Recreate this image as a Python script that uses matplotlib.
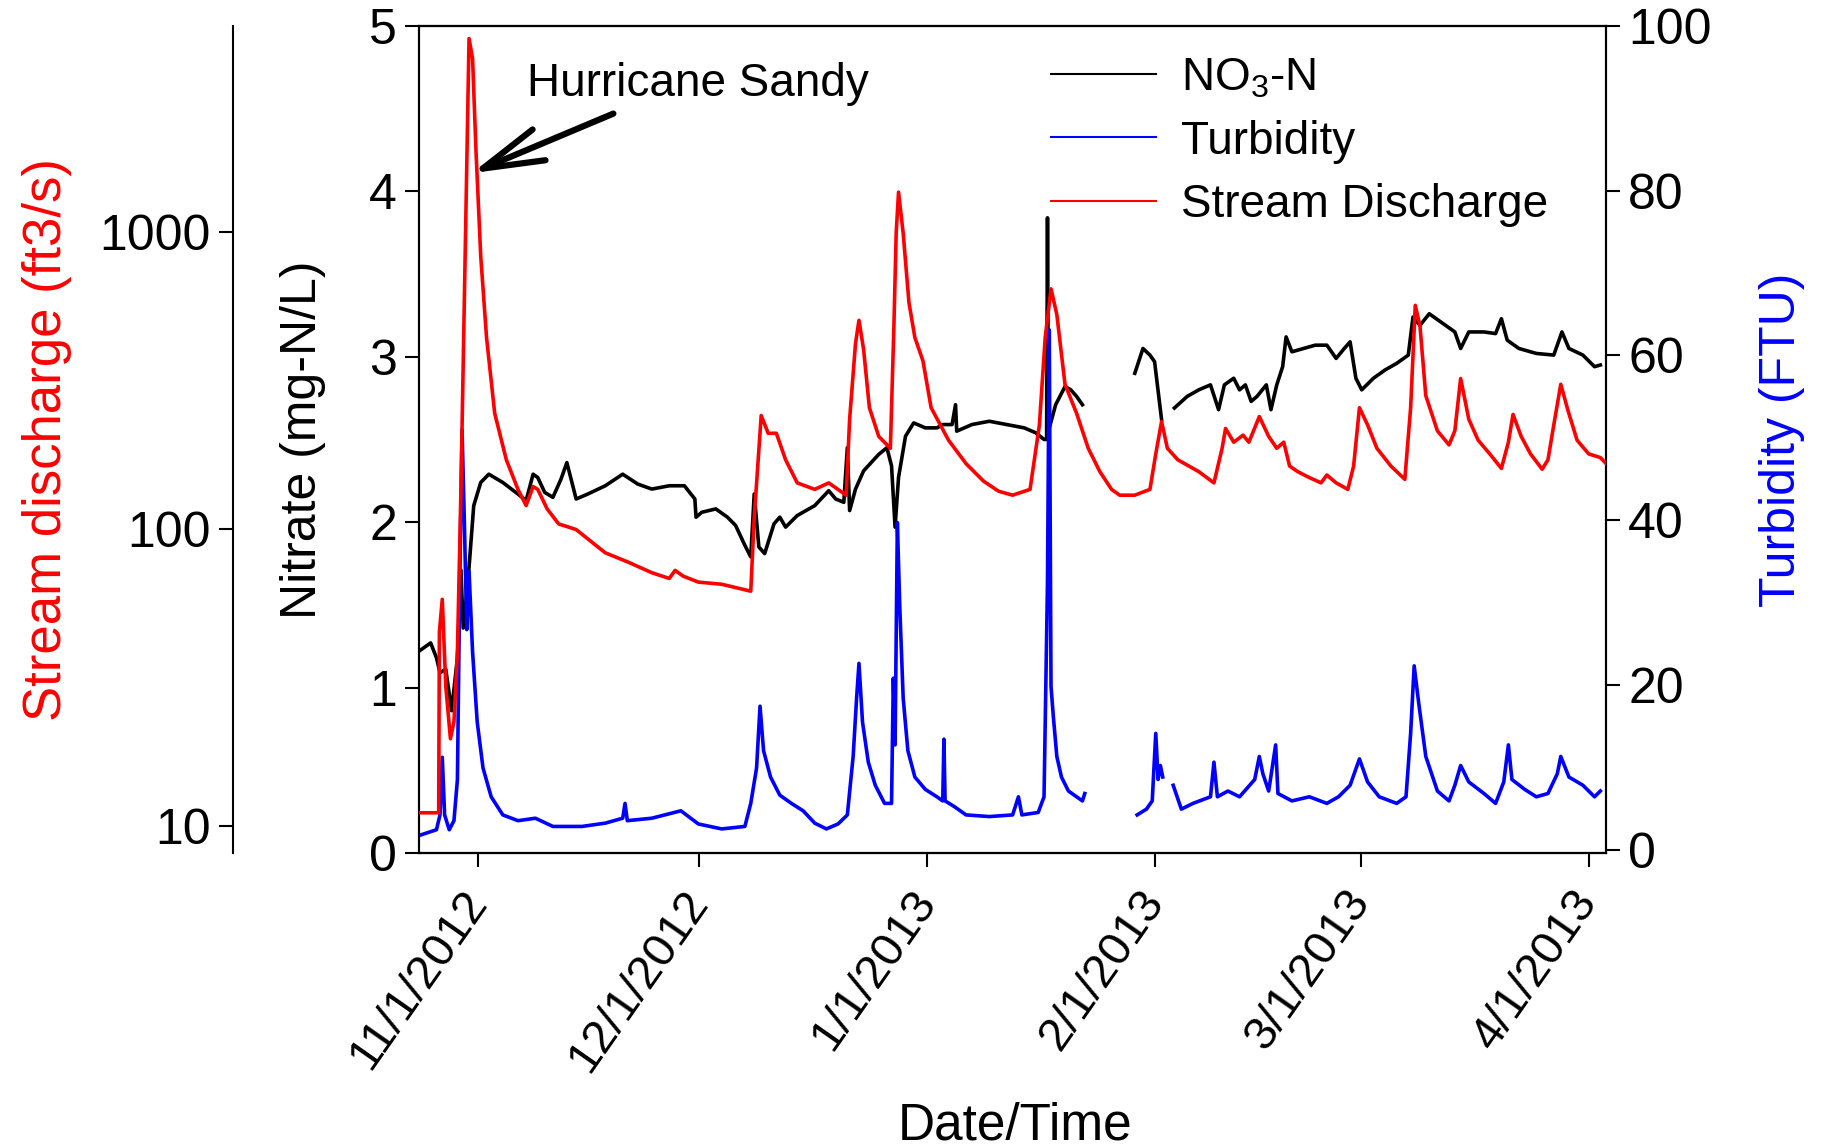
import numpy as np
import pandas as pd
import matplotlib
matplotlib.use('Agg')
import matplotlib.pyplot as plt
import matplotlib.dates as mdates
from matplotlib.lines import Line2D
from matplotlib.ticker import FixedLocator, NullLocator, FuncFormatter

plt.rcParams['font.family'] = 'Liberation Sans'
plt.rcParams['mathtext.fontset'] = 'custom'
plt.rcParams['mathtext.rm'] = 'Liberation Sans'

start = pd.Timestamp('2012-11-01')

# values, x in days since 11/1/2012
no3_days = [-8.07, -6.49, -5.70, -5.22, -4.43, -3.64, -2.85, -2.37, -2.06, -1.42,
            -0.63, 0.32, 1.42, 3.32, 5.38, 6.49, 7.44, 8.07, 9.02, 10.13,
            11.23, 12.03, 13.29, 14.87, 17.25, 19.62, 21.68, 23.58, 25.95, 28.01,
            29.43, 29.59, 30.38, 32.28, 33.86, 34.97, 36.23, 37.03, 37.50, 38.13,
            38.92, 40.19, 40.98, 41.77, 43.35, 45.73, 47.63, 48.58, 49.68, 50.16,
            50.47, 51.27, 52.37, 54.43, 55.54, 56.17, 56.65, 57.12, 58.07, 59.18,
            60.76, 62.34, 63.13, 64.40, 64.87, 65.03, 67.09, 69.46, 71.84, 74.21,
            75.79, 76.90, 77.25, 77.37, 77.50, 78.48, 79.75, 80.54, 81.33, 82.12,
            85.0, 89.24, 90.35, 91.30, 91.93, 92.88, 93.8, 94.62, 96.36, 97.94,
            99.53, 100.63, 101.42, 102.69, 103.48, 104.27, 105.06, 105.85, 107.12, 107.75,
            108.54, 109.34, 109.81, 110.60, 112.18, 113.77, 115.35, 116.61, 117.72, 118.51,
            119.30, 120.09, 121.68, 123.26, 124.84, 126.42, 127.06, 128.01, 129.27, 131.17,
            132.75, 133.54, 134.65, 136.71, 138.29, 139.08, 139.87, 141.46, 143.83, 146.20,
            147.31, 148.26, 150.16, 151.74, 152.53]
no3_vals = [1.22, 1.27, 1.18, 1.09, 1.11, 0.86, 1.18, 1.71, 1.36, 1.64,
            2.10, 2.24, 2.29, 2.24, 2.17, 2.13, 2.29, 2.27, 2.18, 2.15,
            2.26, 2.36, 2.14, 2.17, 2.22, 2.29, 2.23, 2.20, 2.22, 2.22,
            2.14, 2.03, 2.06, 2.08, 2.03, 1.98, 1.86, 1.79, 2.17, 1.85,
            1.81, 1.99, 2.03, 1.97, 2.04, 2.10, 2.19, 2.14, 2.12, 2.45,
            2.07, 2.20, 2.31, 2.41, 2.45, 2.34, 1.97, 2.27, 2.52, 2.60,
            2.57, 2.57, 2.59, 2.59, 2.71, 2.55, 2.59, 2.61, 2.59, 2.57,
            2.54, 2.50, 2.50, 3.84, 2.55, 2.71, 2.82, 2.80, 2.76, 2.71,
            np.nan, 2.90, 3.05, 3.01, 2.97, 2.62, np.nan, 2.69, 2.76, 2.80,
            2.83, 2.68, 2.83, 2.87, 2.80, 2.83, 2.73, 2.76, 2.83, 2.68,
            2.83, 2.94, 3.12, 3.03, 3.05, 3.07, 3.07, 2.99, 3.05, 3.09,
            2.87, 2.80, 2.87, 2.92, 2.96, 3.01, 3.24, 3.19, 3.26, 3.20,
            3.15, 3.05, 3.15, 3.15, 3.14, 3.23, 3.10, 3.05, 3.02, 3.01,
            3.15, 3.05, 3.01, 2.94, 2.95]

turb_days = [-8.07, -5.70, -5.22, -4.91, -4.59, -3.96, -3.32, -2.85, -2.53, -2.22,
             -1.90, -1.58, -1.27, -0.79, -0.16, 0.63, 1.74, 3.32, 5.38, 7.75,
             10.13, 14.08, 17.25, 19.62, 19.94, 20.25, 23.58, 27.53, 29.91, 33.07,
             36.23, 37.03, 37.82, 38.29, 38.77, 39.72, 40.98, 42.56, 44.15, 45.73,
             47.31, 48.89, 50.16, 50.95, 51.42, 51.74, 52.22, 53.01, 53.96, 55.22,
             56.17, 56.41, 56.65, 56.96, 57.28, 57.75, 58.39, 59.34, 60.76, 62.34,
             63.13, 63.29, 63.45, 64.72, 66.30, 69.46, 72.63, 73.42, 73.89, 76.11,
             76.90, 77.37, 77.61, 77.85, 78.16, 78.64, 79.27, 80.22, 81.33, 82.12,
             82.44, 85.0, 89.56, 90.82, 91.61, 92.09, 92.41, 92.72, 93.04, 93.8,
             94.46, 95.57, 97.15, 99.53, 100.00, 100.47, 101.90, 103.48, 105.54, 106.17,
             106.65, 107.44, 108.39, 108.70, 110.60, 112.97, 115.35, 116.93, 118.51, 119.78,
             120.89, 122.47, 124.84, 126.11, 126.74, 127.22, 127.85, 128.80, 130.38, 131.96,
             132.75, 133.54, 134.65, 136.71, 138.29, 139.40, 140.03, 140.51, 142.25, 143.83,
             145.41, 146.68, 147.15, 148.26, 150.16, 151.74, 152.53]
turb_vals = [1.7, 2.4, 4.2, 11.2, 4.2, 2.4, 3.5, 8.5, 32.5, 51.0,
             39.5, 26.7, 33.8, 24.0, 15.5, 9.9, 6.4, 4.2, 3.5, 3.8,
             2.8, 2.8, 3.2, 3.8, 5.6, 3.5, 3.8, 4.7, 3.1, 2.5,
             2.8, 5.6, 9.9, 17.4, 12.0, 8.8, 6.6, 5.6, 4.7, 3.2,
             2.5, 3.1, 4.2, 11.3, 18.4, 22.6, 15.5, 10.6, 7.8, 5.6,
             5.6, 20.8, 12.7, 39.7, 29.7, 18.4, 12.0, 8.8, 7.3, 6.4,
             5.9, 13.4, 5.9, 5.2, 4.2, 4.0, 4.2, 6.4, 4.2, 4.5,
             6.4, 32.5, 63.1, 19.8, 16.2, 11.3, 8.8, 7.1, 6.4, 5.9,
             6.8, np.nan, 4.2, 4.9, 5.9, 14.1, 8.5, 10.2, 8.8, np.nan,
             7.8, 4.9, 5.6, 6.4, 10.6, 6.4, 7.1, 6.4, 8.5, 11.3,
             9.2, 7.1, 12.7, 6.8, 5.9, 6.4, 5.6, 6.4, 7.8, 11.0,
             8.2, 6.4, 5.6, 6.4, 14.1, 22.3, 17.7, 11.3, 7.1, 5.9,
             7.8, 10.2, 8.2, 6.8, 5.6, 8.2, 12.7, 8.5, 7.3, 6.4,
             6.8, 9.2, 11.3, 8.8, 7.8, 6.4, 7.1]

q_days = [-8.07, -5.40, -5.30, -4.91, -4.43, -3.80, -3.32, -2.85, -2.37, -1.74,
          -1.27, -0.79, -0.32, 0.32, 1.11, 2.22, 3.80, 5.38, 6.49, 7.44,
          8.07, 9.34, 10.92, 12.03, 13.29, 14.87, 17.25, 20.41, 23.58, 25.95,
          26.74, 27.85, 29.91, 33.07, 37.03, 37.50, 38.45, 39.40, 40.51, 41.77,
          43.35, 45.73, 47.63, 48.89, 50.00, 50.47, 51.27, 51.74, 52.37, 53.16,
          54.43, 56.01, 56.49, 56.80, 57.12, 57.75, 58.54, 59.34, 60.44, 61.55,
          63.92, 66.30, 68.67, 70.73, 72.63, 75.00, 76.27, 77.06, 77.85, 78.64,
          79.75, 81.33, 82.91, 84.49, 86.08, 87.18, 89.24, 91.30, 92.09, 92.88,
          93.67, 95.09, 97.94, 100.00, 101.11, 101.58, 102.69, 103.96, 104.75, 106.17,
          107.44, 108.54, 109.49, 110.28, 111.39, 112.97, 114.56, 115.35, 116.61, 118.20,
          118.99, 119.78, 120.89, 122.15, 124.05, 125.95, 126.74, 127.37, 128.01, 128.80,
          130.38, 131.96, 132.75, 133.54, 134.65, 135.92, 137.50, 139.08, 140.03, 140.66,
          141.77, 143.04, 144.62, 145.41, 146.20, 147.15, 148.10, 149.37, 150.95, 152.53,
          153.32]
q_vals = [11.1, 11.1, 45, 58, 29.5, 19.7, 22.5, 38.6, 136, 990,
          4470, 3830, 1860, 828, 441, 245, 171, 136, 120, 139,
          136, 117, 104, 102, 99.6, 92.7, 83.2, 77.3, 71.3, 68.2,
          72.6, 69.4, 66.3, 65.2, 61.8, 109, 241, 210, 210, 171,
          143, 136, 143, 136, 130, 234, 421, 504, 402, 256,
          205, 187, 482, 990, 1360, 990, 577, 441, 368, 256,
          199, 166, 145, 134, 130, 136, 224, 441, 643, 527,
          307, 245, 187, 156, 136, 130, 130, 136, 179, 230,
          187, 171, 156, 143, 187, 218, 196, 207, 196, 239,
          205, 187, 196, 163, 156, 149, 143, 152, 143, 136,
          163, 256, 224, 187, 163, 147, 256, 566, 482, 281,
          214, 192, 214, 321, 234, 199, 179, 160, 196, 243,
          205, 179, 159, 171, 224, 307, 252, 199, 179, 174,
          166]


def to_dates(days):
    return start + pd.to_timedelta(np.array(days), unit='D')


fig = plt.figure(figsize=(18.25, 11.48), dpi=100)
ax = fig.add_axes([0.2296, 0.257, 0.6504, 0.7204])
ax_t = ax.twinx()
ax_q = ax.twinx()

lw = 2.6
ax.plot(to_dates(no3_days), no3_vals, color='black', lw=lw)
ax_t.plot(to_dates(turb_days), turb_vals, color='blue', lw=lw)
ax_q.plot(to_dates(q_days), q_vals, color='red', lw=lw)

ax.set_xlim(to_dates([-8.07])[0], to_dates([153.3])[0])
ax.set_ylim(0, 5)
ax_t.set_ylim(-0.42, 100)
ax_q.set_yscale('log')
ax_q.set_ylim(8.13, 4930)

tick_fs = 36
# nitrate axis
ax.set_yticks([0, 1, 2, 3, 4, 5])
ax.tick_params(axis='y', direction='out', length=10, width=1.5, labelsize=tick_fs, pad=6)
ax.set_ylabel('Nitrate (mg-N/L)', fontsize=36)
ax.yaxis.set_label_coords(-0.078, 0.5)

# turbidity axis
ax_t.set_yticks([0, 20, 40, 60, 80, 100])
ax_t.tick_params(axis='y', direction='out', length=10, width=1.5, labelsize=tick_fs, pad=6)
ax_t.set_ylabel('Turbidity (FTU)', fontsize=36, color='blue', rotation=90)
ax_t.yaxis.set_label_coords(1.129, 0.5)

# discharge axis, offset spine on the left
ax_q.spines['left'].set_position(('axes', -0.157))
ax_q.spines['left'].set_visible(True)
ax_q.spines['right'].set_visible(False)
ax_q.yaxis.set_ticks_position('left')
ax_q.yaxis.set_label_position('left')
ax_q.yaxis.set_major_locator(FixedLocator([10, 100, 1000]))
ax_q.yaxis.set_minor_locator(NullLocator())
ax_q.yaxis.set_major_formatter(FuncFormatter(lambda v, p: f'{int(v)}'))
ax_q.tick_params(axis='y', direction='out', length=10, width=1.5, labelsize=tick_fs, pad=6)
ax_q.set_ylabel('Stream discharge (ft3/s)', fontsize=38, color='red')
ax_q.yaxis.set_label_coords(-0.292, 0.5)

for a in (ax, ax_t, ax_q):
    for s in a.spines.values():
        s.set_linewidth(1.5)

# x axis
ax.xaxis.set_major_locator(mdates.MonthLocator())
ax.xaxis.set_major_formatter(FuncFormatter(
    lambda v, p: '{0.month}/{0.day}/{0.year}'.format(mdates.num2date(v))))
ax.tick_params(axis='x', direction='out', length=10, width=1.5, labelsize=34, pad=20)
plt.setp(ax.get_xticklabels(), rotation=55, ha='right', va='center', rotation_mode='anchor')
ax.set_xlabel('Date/Time', fontsize=37)
ax.xaxis.set_label_coords(0.502, -0.30)

# annotation
ax.annotate('', xy=(to_dates([-0.9])[0], 4.11), xytext=(to_dates([18.35])[0], 4.47),
            arrowprops=dict(arrowstyle='->, head_length=2.2, head_width=0.6',
                            mutation_scale=20, lw=4.5, color='black',
                            shrinkA=0, shrinkB=0))
ax.text(to_dates([6.65])[0], 4.65, 'Hurricane Sandy', fontsize=33, ha='left', va='center')

handles = [Line2D([], [], color='black', lw=1.5),
           Line2D([], [], color='blue', lw=1.5),
           Line2D([], [], color='red', lw=1.5)]
labels = ['NO$_3$-N', 'Turbidity', 'Stream Discharge']
ax_q.legend(handles, labels, loc='upper left', bbox_to_anchor=(0.576, 0.951),
            bbox_transform=fig.transFigure, frameon=False, fontsize=33,
            handlelength=2.29, handletextpad=0.55, borderpad=0, borderaxespad=0,
            labelspacing=0.42)

fig.savefig('out.png', dpi=100)
